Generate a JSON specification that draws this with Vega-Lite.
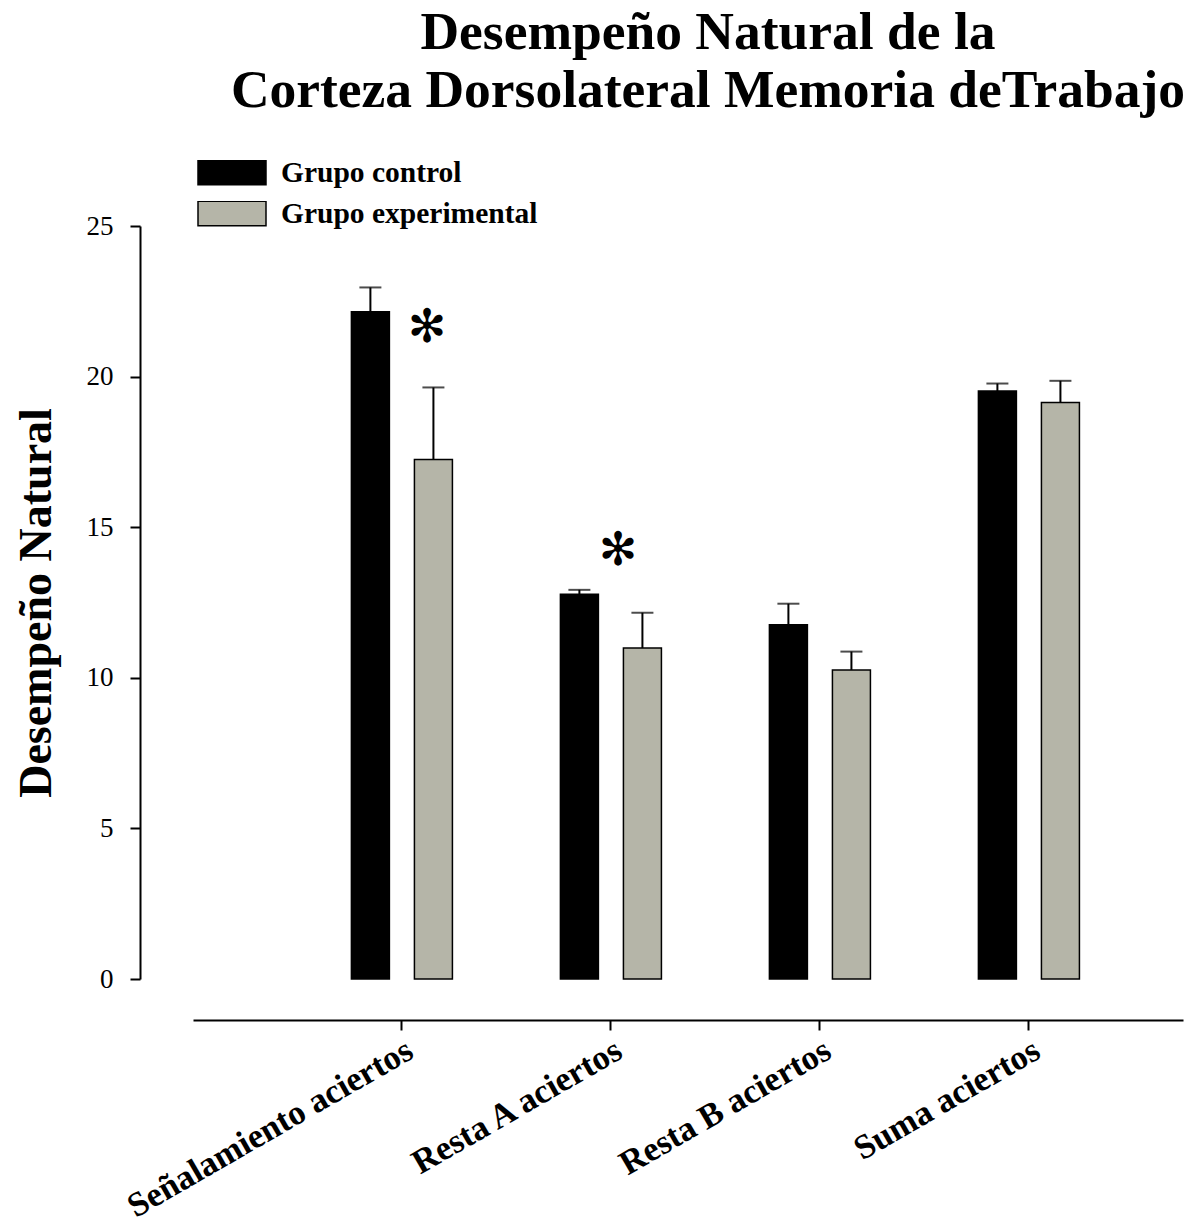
{
  "$schema": "https://vega.github.io/schema/vega-lite/v6.json",
  "width": 990,
  "height": 753,
  "autosize": {"type": "none"},
  "padding": {"left": 193, "top": 226, "right": 10, "bottom": 247},
  "background": "white",
  "title": {
    "text": ["Desempeño Natural de la", "Corteza Dorsolateral Memoria deTrabajo"],
    "font": "Liberation Serif",
    "fontSize": 53.5,
    "fontWeight": "bold",
    "color": "black",
    "anchor": "middle",
    "dx": 20,
    "dy": -38,
    "lineHeight": 58
  },
  "config": {
    "view": {"stroke": null},
    "axis": {
      "domainColor": "black",
      "tickColor": "black",
      "labelColor": "black",
      "titleColor": "black",
      "grid": false,
      "labelFont": "Liberation Serif",
      "titleFont": "Liberation Serif"
    }
  },
  "data": {
    "values": [
      {"tarea": "Señalamiento aciertos", "grupo": "Grupo control", "media": 22.15, "sup": 22.96},
      {"tarea": "Señalamiento aciertos", "grupo": "Grupo experimental", "media": 17.25, "sup": 19.64},
      {"tarea": "Resta A aciertos", "grupo": "Grupo control", "media": 12.77, "sup": 12.92},
      {"tarea": "Resta A aciertos", "grupo": "Grupo experimental", "media": 10.99, "sup": 12.16},
      {"tarea": "Resta B aciertos", "grupo": "Grupo control", "media": 11.76, "sup": 12.46},
      {"tarea": "Resta B aciertos", "grupo": "Grupo experimental", "media": 10.26, "sup": 10.87},
      {"tarea": "Suma aciertos", "grupo": "Grupo control", "media": 19.52, "sup": 19.77},
      {"tarea": "Suma aciertos", "grupo": "Grupo experimental", "media": 19.14, "sup": 19.86}
    ]
  },
  "encoding": {
    "x": {
      "field": "tarea",
      "type": "nominal",
      "sort": null,
      "scale": {"paddingInner": 0.2, "paddingOuter": 0.4684, "align": 0.64},
      "axis": {
        "title": null,
        "offset": 41,
        "domainWidth": 2,
        "tickSize": 10,
        "tickWidth": 2,
        "labelAngle": -30,
        "labelAlign": "right",
        "labelBaseline": "top",
        "labelPadding": 3,
        "labelFontSize": 34.5,
        "labelFontWeight": "bold",
        "labelLimit": 0
      }
    },
    "xOffset": {
      "field": "grupo",
      "type": "nominal",
      "scale": {"paddingInner": 0.397, "paddingOuter": 0.525}
    }
  },
  "layer": [
    {
      "mark": {"type": "bar", "stroke": "black", "strokeWidth": 1.5},
      "encoding": {
        "y": {
          "field": "media",
          "type": "quantitative",
          "scale": {"domain": [0, 25], "nice": false},
          "axis": {
            "title": "Desempeño Natural",
            "titleFontSize": 46,
            "titleFontWeight": "bold",
            "titlePadding": 26,
            "offset": 53,
            "values": [0, 5, 10, 15, 20, 25],
            "domainWidth": 2,
            "tickSize": 10,
            "tickWidth": 2,
            "labelFontSize": 27,
            "labelPadding": 17
          }
        },
        "color": {
          "field": "grupo",
          "type": "nominal",
          "scale": {"range": ["#000000", "#b5b5a8"]},
          "legend": {
            "title": null,
            "orient": "none",
            "legendX": 4,
            "legendY": -66,
            "padding": 0,
            "symbolType": "M-1,-0.36H1V0.36H-1Z",
            "symbolSize": 4624,
            "symbolStrokeColor": "black",
            "symbolStrokeWidth": 1.5,
            "clipHeight": 25,
            "rowPadding": 11,
            "labelFont": "Liberation Serif",
            "labelFontSize": 29.5,
            "labelFontWeight": "bold",
            "labelColor": "black",
            "labelOffset": 14,
            "labelLimit": 0
          }
        }
      }
    },
    {
      "mark": {"type": "rule", "color": "black", "strokeWidth": 2},
      "encoding": {
        "y": {"field": "media", "type": "quantitative"},
        "y2": {"field": "sup"}
      }
    },
    {
      "mark": {"type": "tick", "color": "black", "size": 22, "thickness": 2, "orient": "horizontal"},
      "encoding": {
        "y": {"field": "sup", "type": "quantitative"}
      }
    },
    {
      "data": {"values": [{"tarea": "Señalamiento aciertos", "marca": "✻", "nivel": 21.61}]},
      "mark": {"type": "text", "font": "DejaVu Sans", "fontSize": 46, "baseline": "middle", "color": "black", "dx": 25},
      "encoding": {
        "xOffset": null,
        "y": {"field": "nivel", "type": "quantitative"},
        "text": {"field": "marca"}
      }
    },
    {
      "data": {"values": [{"tarea": "Resta A aciertos", "marca": "✻", "nivel": 14.21}]},
      "mark": {"type": "text", "font": "DejaVu Sans", "fontSize": 46, "baseline": "middle", "color": "black", "dx": 7},
      "encoding": {
        "xOffset": null,
        "y": {"field": "nivel", "type": "quantitative"},
        "text": {"field": "marca"}
      }
    }
  ]
}
